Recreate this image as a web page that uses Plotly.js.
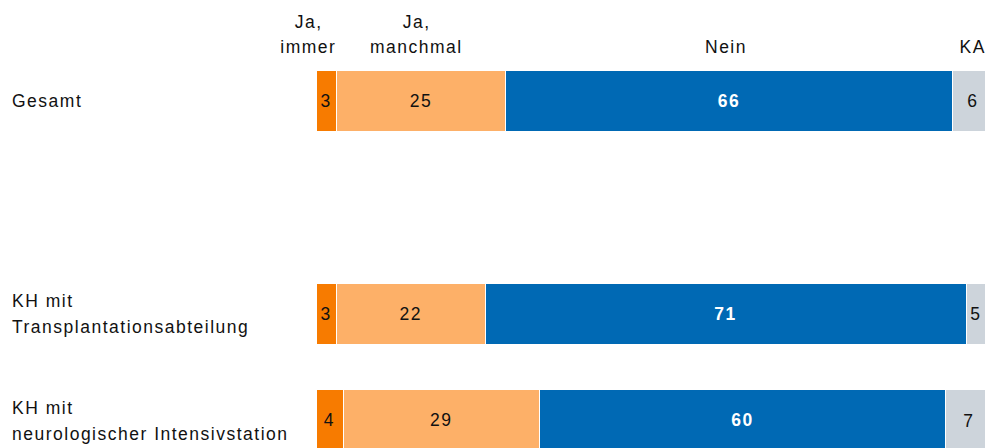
<!DOCTYPE html>
<html>
<head>
<meta charset="utf-8">
<script src="https://cdn.plot.ly/plotly-3.0.1.min.js"></script>
<style>
  html, body { margin: 0; padding: 0; background: #fff; }
  #chart { width: 985px; height: 448px; }
  #chart svg text { letter-spacing: 1.5px; }
</style>
</head>
<body>
<div id="chart"></div>
<script>
// ---- data ----
const rowLabels = ["Gesamt", "KH mit<br>Transplantationsabteilung", "KH mit<br>neurologischer Intensivstation"];
const slotOrder = ["Gesamt", " ", "KH mit<br>Transplantationsabteilung", "KH mit<br>neurologischer Intensivstation"];
const seriesNames = ["Ja,<br>immer", "Ja,<br>manchmal", "Nein", "KA"];
const jaImmer = [3, 3, 4];
const jaManchmal = [25, 22, 29];
const nein = [66, 71, 60];
const ka = [6, 5, 7];

// ---- styles ----
const seriesValues = [jaImmer, jaManchmal, nein, ka];
const seriesColors = ["#F77B00", "#FDB068", "#0069B4", "#CDD4DB"];
const textColors = ["#111111", "#111111", "#FFFFFF", "#111111"];
const textBold = [false, false, true, false];
const FONT = "'Liberation Sans', Arial, Helvetica, sans-serif";
const FS = 17.5;
const W = 985, H = 448, L = 316;
const PXU = 6.771;               // pixels per percentage point
const XMAX = (W - L) / PXU;

const lastIdx = seriesValues.length - 1;
const traces = seriesValues.map((vals, i) => ({
  type: "bar",
  orientation: "h",
  name: seriesNames[i],
  y: rowLabels,
  x: vals,
  width: 0.58,
  marker: { color: seriesColors[i], line: { color: "#FFFFFF", width: 1 } },
  text: i === lastIdx ? undefined : vals.map(v => textBold[i] ? "<b>" + v + "</b>" : String(v)),
  textposition: i === lastIdx ? "none" : "inside",
  insidetextanchor: "middle",
  textangle: 0,
  constraintext: "none",
  textfont: { family: FONT, size: FS, color: textColors[i] },
  hoverinfo: "skip"
}));

const pxToPaperX = p => (p - L) / (W - L);
const pxToPaperY = p => 1 - p / H;

const annotations = [];
// last segment values: centred on the segment, but kept inside the visible area
rowLabels.forEach((lbl, r) => {
  let start = 0;
  for (let i = 0; i < lastIdx; i++) start += seriesValues[i][r];
  const mid = start + seriesValues[lastIdx][r] / 2;
  annotations.push({
    text: String(seriesValues[lastIdx][r]), xref: "x", yref: "y",
    x: Math.min(mid, XMAX - 1.35), y: lbl,
    xanchor: "center", yanchor: "middle", showarrow: false,
    font: { family: FONT, size: FS, color: textColors[lastIdx] }
  });
});

// row labels (left aligned), each line placed separately
const rowLineGap = 26;
rowLabels.forEach(lbl => {
  const lines = lbl.split("<br>");
  lines.forEach((ln, k) => {
    annotations.push({
      text: ln, xref: "paper", yref: "y",
      x: pxToPaperX(10), y: lbl,
      xanchor: "left", yanchor: "middle", align: "left",
      yshift: -((k - (lines.length - 1) / 2) * rowLineGap),
      showarrow: false,
      font: { family: FONT, size: FS, color: "#111111" }
    });
  });
});

// series headers above the first row, centred on the first row's segments
const headerShift = [-18, -4, -3, 0];
let cum = 0;
seriesNames.forEach((nm, i) => {
  const mid = cum + seriesValues[i][0] / 2;
  cum += seriesValues[i][0];
  const lines = nm.split("<br>");
  lines.forEach((ln, k) => {
    const fromBottom = lines.length - 1 - k;
    annotations.push({
      text: ln, xref: "x", yref: "paper",
      x: mid, y: pxToPaperY(47 - fromBottom * 25),
      xanchor: "center", yanchor: "middle",
      xshift: headerShift[i],
      showarrow: false,
      font: { family: FONT, size: FS, color: "#111111" }
    });
  });
});

const layout = {
  width: W, height: H,
  margin: { l: L, r: 0, t: 0, b: 0, pad: 0 },
  barmode: "stack",
  bargap: 0,
  showlegend: false,
  paper_bgcolor: "#FFFFFF",
  plot_bgcolor: "#FFFFFF",
  xaxis: { range: [0, XMAX], visible: false, fixedrange: true },
  yaxis: {
    type: "category", categoryorder: "array", categoryarray: slotOrder,
    range: [(H - 101) / 106.5, -101 / 106.5],
    visible: false, fixedrange: true
  },
  annotations: annotations,
  font: { family: FONT, size: FS, color: "#111111" }
};

Plotly.newPlot("chart", traces, layout, { staticPlot: true, displayModeBar: false });
</script>
</body>
</html>
